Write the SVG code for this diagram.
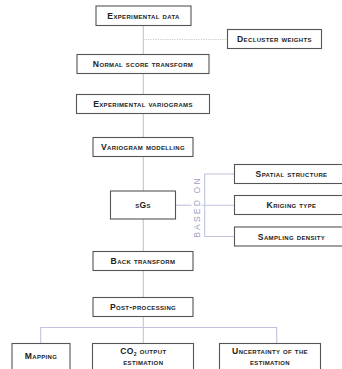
<svg xmlns="http://www.w3.org/2000/svg" width="342" height="369" viewBox="0 0 342 369">
<style>
.box{fill:#fff;stroke:#555;stroke-width:1.1}
.t{font-family:"Liberation Sans",Arial,sans-serif;font-weight:bold;font-size:8.6px;font-variant:small-caps;letter-spacing:0.35px;fill:#222;text-anchor:middle}
.ln{stroke:#c2c2dc;stroke-width:1.1;fill:none}
.dot{stroke:#bbb;stroke-width:0.8;stroke-dasharray:1.2,1.2;fill:none}
.based{font-family:"Liberation Sans",Arial,sans-serif;font-size:8.5px;letter-spacing:2.2px;fill:#a0a0c8;text-anchor:middle}
</style>
<rect width="342" height="369" fill="#fff"/>
<g id="connectors">
<line class="ln" x1="143.3" y1="25" x2="143.3" y2="327.5"/>
<line class="dot" x1="143.3" y1="39.5" x2="227.5" y2="39.5"/>
<line class="ln" x1="175.7" y1="205.2" x2="191.5" y2="205.2"/>
<line class="ln" x1="201.5" y1="205.2" x2="234.5" y2="205.2"/>
<polyline class="ln" points="234.5,174 204.7,174 204.7,236.5 234.5,236.5"/>
<polyline class="ln" points="40.7,343.5 40.7,327.5 276.7,327.5 276.7,343.5"/>
<line class="ln" x1="143.3" y1="327.5" x2="143.3" y2="343.5"/>
<text class="based" transform="translate(199.5,207) rotate(-90)">BASED ON</text>
</g>
<g id="experimental-data"><rect class="box" x="96" y="6" width="95" height="19.5"/><text class="t" x="143.5" y="18.8">Experimental data</text></g>
<g id="decluster-weights"><rect class="box" x="227.5" y="29.5" width="94" height="19"/><text class="t" x="274.5" y="42">Decluster weights</text></g>
<g id="normal-score"><rect class="box" x="77" y="54.5" width="132" height="19"/><text class="t" x="143" y="67">Normal score transform</text></g>
<g id="exp-variograms"><rect class="box" x="76.5" y="94.5" width="133" height="19"/><text class="t" x="143" y="107">Experimental variograms</text></g>
<g id="variogram-modelling"><rect class="box" x="93" y="137.5" width="100" height="19"/><text class="t" x="143" y="150">Variogram modelling</text></g>
<g id="sgs"><rect class="box" x="110.5" y="191" width="65" height="28"/><text class="t" x="143" y="208">sGs</text></g>
<g id="spatial-structure"><rect class="box" x="234.5" y="164.5" width="115" height="19"/><text class="t" x="291.5" y="177">Spatial structure</text></g>
<g id="kriging-type"><rect class="box" x="234.5" y="195.5" width="115" height="19"/><text class="t" x="291.5" y="208">Kriging type</text></g>
<g id="sampling-density"><rect class="box" x="234.5" y="227" width="115" height="19"/><text class="t" x="291.5" y="239.5">Sampling density</text></g>
<g id="back-transform"><rect class="box" x="93" y="251.5" width="100" height="19"/><text class="t" x="143" y="264">Back transform</text></g>
<g id="post-processing"><rect class="box" x="93" y="297.5" width="100" height="19"/><text class="t" x="143" y="310">Post-processing</text></g>
<g id="mapping"><rect class="box" x="12" y="343.5" width="58" height="30"/><text class="t" x="41" y="359">Mapping</text></g>
<g id="co2"><rect class="box" x="92.5" y="343.5" width="101" height="30"/><text class="t" x="143.3" y="354">CO<tspan font-size="5" dy="1.5">2</tspan><tspan dy="-1.5"> output</tspan></text><text class="t" x="143.3" y="364.5">estimation</text></g>
<g id="uncertainty"><rect class="box" x="219.5" y="343.5" width="101" height="30"/><text class="t" x="270" y="354">Uncertainty of the</text><text class="t" x="270" y="364.5">estimation</text></g>
</svg>
